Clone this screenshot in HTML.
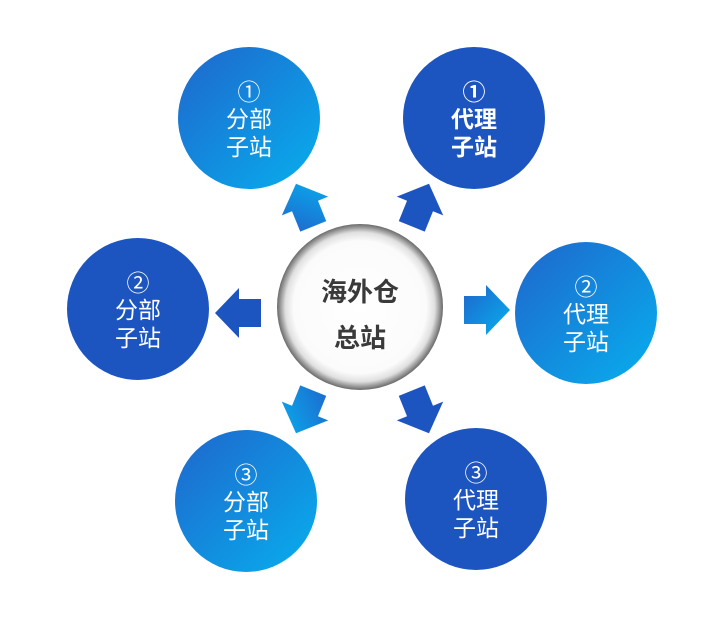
<!DOCTYPE html>
<html><head><meta charset="utf-8"><style>
html,body{margin:0;padding:0;background:#fff;}
svg{display:block;}
text{font-family:"Liberation Sans","Noto Sans CJK SC",sans-serif;}
</style></head><body>
<svg width="709" height="621" viewBox="0 0 709 621" xmlns="http://www.w3.org/2000/svg">
<defs>
<linearGradient id="lg" x1="0" y1="0" x2="1" y2="1">
<stop offset="0" stop-color="#1f66cc"/><stop offset="1" stop-color="#07afee"/>
</linearGradient>
<radialGradient id="cg" cx="0.5" cy="0.5" r="0.5">
<stop offset="0" stop-color="#ffffff"/><stop offset="0.8" stop-color="#fbfbfb"/>
<stop offset="0.9" stop-color="#e0e0e0"/><stop offset="0.97" stop-color="#8c8c8c"/><stop offset="1" stop-color="#6a6a6a"/>
</radialGradient>
<g id="arr"><polygon points="-22,-14 0,-14 0,-25 24,0 0,25 0,14 -22,14"/></g>
</defs>

<use href="#arr" fill="#1d55c0" transform="translate(239,313) rotate(180)"/>
<use href="#arr" fill="url(#lg)" transform="translate(486,310)"/>
<use href="#arr" fill="url(#lg)" transform="translate(305,206) rotate(-112)"/>
<use href="#arr" fill="#1d55c0" transform="translate(420,206) rotate(-68)"/>
<use href="#arr" fill="url(#lg)" transform="translate(305,411) rotate(112)"/>
<use href="#arr" fill="#1d55c0" transform="translate(420,411) rotate(68)"/>

<circle cx="249" cy="118" r="71" fill="url(#lg)"/>
<circle cx="474" cy="118" r="71" fill="#1d55c0"/>
<circle cx="138" cy="309" r="71" fill="#1d55c0"/>
<circle cx="586" cy="313" r="71" fill="url(#lg)"/>
<circle cx="246" cy="501" r="71" fill="url(#lg)"/>
<circle cx="476" cy="499" r="71" fill="#1d55c0"/>
<circle cx="360" cy="307" r="83" fill="url(#cg)"/>

<g fill="#fff" font-size="23" text-anchor="middle">
<text x="249" y="100">①</text><text x="249" y="127">分部</text><text x="249" y="155">子站</text>
<g font-weight="bold"><text x="474" y="100">①</text><text x="474" y="127">代理</text><text x="474" y="155">子站</text></g>
<text x="138" y="291">②</text><text x="138" y="318">分部</text><text x="138" y="346">子站</text>
<text x="586" y="295">②</text><text x="586" y="322">代理</text><text x="586" y="350">子站</text>
<text x="246" y="483">③</text><text x="246" y="510">分部</text><text x="246" y="538">子站</text>
<text x="476" y="481">③</text><text x="476" y="508">代理</text><text x="476" y="536">子站</text>
</g>
<g fill="#3a3a3a" font-size="26" font-weight="bold" text-anchor="middle">
<text x="360" y="301">海外仓</text><text x="360" y="347">总站</text>
</g>
</svg>
</body></html>
